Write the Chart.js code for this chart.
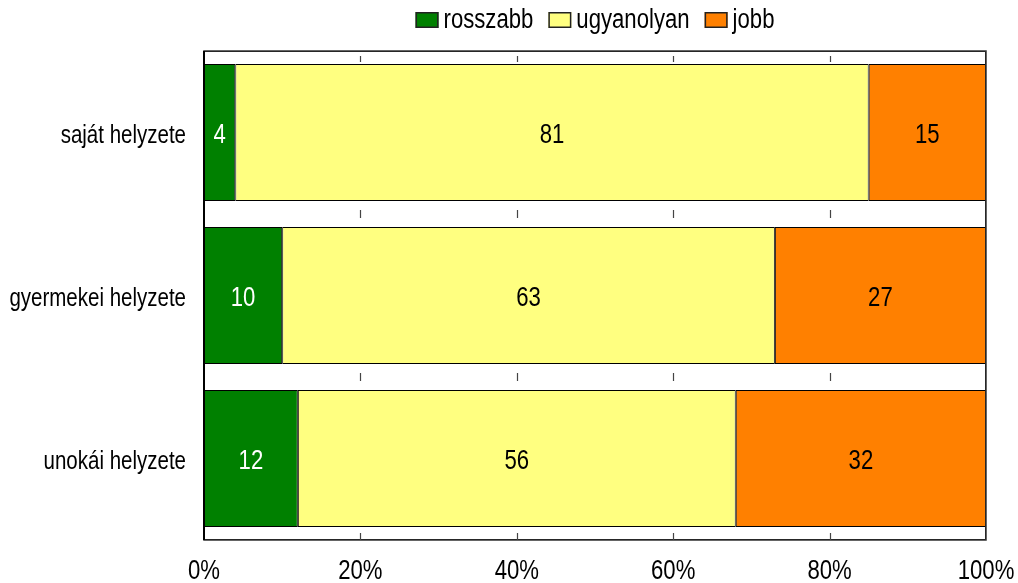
<!DOCTYPE html>
<html>
<head>
<meta charset="utf-8">
<script src="https://cdn.jsdelivr.net/npm/chart.js@4.4.1/dist/chart.umd.min.js"></script>
<style>
  html, body { margin: 0; padding: 0; background: #fff; }
  #wrap { width: 1018px; height: 583px; }
</style>
</head>
<body>
<div id="wrap"><canvas id="chart" width="1018" height="583"></canvas></div>
<script>
// categories and series (percent)
const categories = ['saját helyzete', 'gyermekei helyzete', 'unokái helyzete'];
const seriesNames = ['rosszabb', 'ugyanolyan', 'jobb'];
const worse = [4, 10, 12];
const same = [81, 63, 56];
const better = [15, 27, 32];
const xTicks = [0, 20, 40, 60, 80, 100];

const FONT = '"Liberation Sans", Arial, sans-serif';
const NARROW = 0.82; // squeeze text horizontally, the original uses a narrow face
const colors = ['#008000', '#FFFF80', '#FF8000'];
const labelColors = ['#ffffff', '#000000', '#000000'];

// draw condensed text
function narrowText(ctx, text, x, y, size, align) {
  ctx.save();
  ctx.translate(x, y);
  ctx.scale(NARROW, 1);
  ctx.font = size + 'px ' + FONT;
  ctx.textAlign = align;
  ctx.textBaseline = 'alphabetic';
  ctx.fillText(text, 0, 0);
  ctx.restore();
}

// value labels in the middle of each segment
const valueLabels = {
  id: 'valueLabels',
  afterDatasetsDraw(chart) {
    const ctx = chart.ctx;
    chart.data.datasets.forEach((ds, i) => {
      chart.getDatasetMeta(i).data.forEach((bar, j) => {
        const p = bar.getProps(['x', 'base', 'y'], true);
        ctx.fillStyle = labelColors[i];
        narrowText(ctx, String(ds.data[j]), (p.x + p.base) / 2, p.y + 10.5, 27, 'center');
      });
    });
  }
};

// axis labels, legend, plot frame and the small inner tick marks
const decor = {
  id: 'decor',
  afterDraw(chart) {
    const { ctx, chartArea: a, scales } = chart;
    const xs = scales.x, ys = scales.y;
    ctx.save();
    ctx.fillStyle = '#000';

    // category labels
    categories.forEach((c, i) => {
      narrowText(ctx, c, a.left - 18, ys.getPixelForValue(i) + 10.5, 25, 'right');
    });
    // x tick labels
    xTicks.forEach(v => {
      narrowText(ctx, v + '%', xs.getPixelForValue(v), a.bottom + 39, 27, 'center');
    });

    // legend, centered over the plot
    const boxW = 23, boxH = 16, gapBox = 5, gapItem = 15, size = 27;
    ctx.font = size + 'px ' + FONT;
    const widths = seriesNames.map(n => ctx.measureText(n).width * NARROW);
    const total = widths.reduce((s, w) => s + boxW + gapBox + w, 0) + gapItem * (seriesNames.length - 1);
    let x = (a.left + a.right) / 2 - total / 2;
    seriesNames.forEach((n, i) => {
      ctx.fillStyle = colors[i];
      ctx.fillRect(x, 12, boxW, boxH);
      ctx.strokeStyle = '#222';
      ctx.lineWidth = 1.5;
      ctx.strokeRect(x + 0.75, 12.75, boxW - 1.5, boxH - 1.5);
      ctx.fillStyle = '#000';
      narrowText(ctx, n, x + boxW + gapBox, 28, size, 'left');
      x += boxW + gapBox + widths[i] + gapItem;
    });

    // frame
    ctx.strokeStyle = '#000';
    ctx.lineWidth = 1;
    ctx.strokeRect(a.left + 0.5, a.top + 0.5, a.right - a.left - 1, a.bottom - a.top - 1);
    ctx.strokeStyle = '#333';
    ctx.lineWidth = 1.5;
    ctx.strokeRect(a.left, a.top, a.right - a.left, a.bottom - a.top);
    ctx.strokeStyle = '#000';
    ctx.lineWidth = 2;
    ctx.beginPath();
    ctx.moveTo(a.left, a.top);
    ctx.lineTo(a.left, a.bottom);
    ctx.stroke();

    // short tick marks: above the first bar, in the gaps, above the bottom edge
    const band = ys.getPixelForValue(1) - ys.getPixelForValue(0);
    const marks = [[a.top + 5, a.top + 11],
      [ys.getPixelForValue(0) + band / 2 - 4, ys.getPixelForValue(0) + band / 2 + 4],
      [ys.getPixelForValue(1) + band / 2 - 4, ys.getPixelForValue(1) + band / 2 + 4],
      [a.bottom - 7, a.bottom]];
    ctx.strokeStyle = '#444';
    ctx.lineWidth = 1.2;
    ctx.beginPath();
    xTicks.slice(1, -1).forEach(v => {
      const px = Math.round(xs.getPixelForValue(v)) + 0.5;
      marks.forEach(m => {
        ctx.moveTo(px, m[0]);
        ctx.lineTo(px, m[1]);
      });
    });
    ctx.stroke();
    ctx.restore();
  }
};

const datasets = [worse, same, better].map((d, i) => ({
  label: seriesNames[i],
  data: d,
  backgroundColor: colors[i],
  borderColor: '#000',
  borderWidth: 1,
  borderSkipped: false,
  barPercentage: 0.84,
  categoryPercentage: 1
}));

new Chart(document.getElementById('chart'), {
  type: 'bar',
  data: { labels: categories, datasets },
  options: {
    indexAxis: 'y',
    responsive: false,
    animation: false,
    layout: { padding: { left: 204, right: 32, top: 51, bottom: 43 } },
    plugins: {
      legend: { display: false },
      tooltip: { enabled: false }
    },
    scales: {
      x: { display: false, stacked: true, min: 0, max: 100 },
      y: { display: false, stacked: true }
    }
  },
  plugins: [valueLabels, decor]
});
</script>
</body>
</html>
